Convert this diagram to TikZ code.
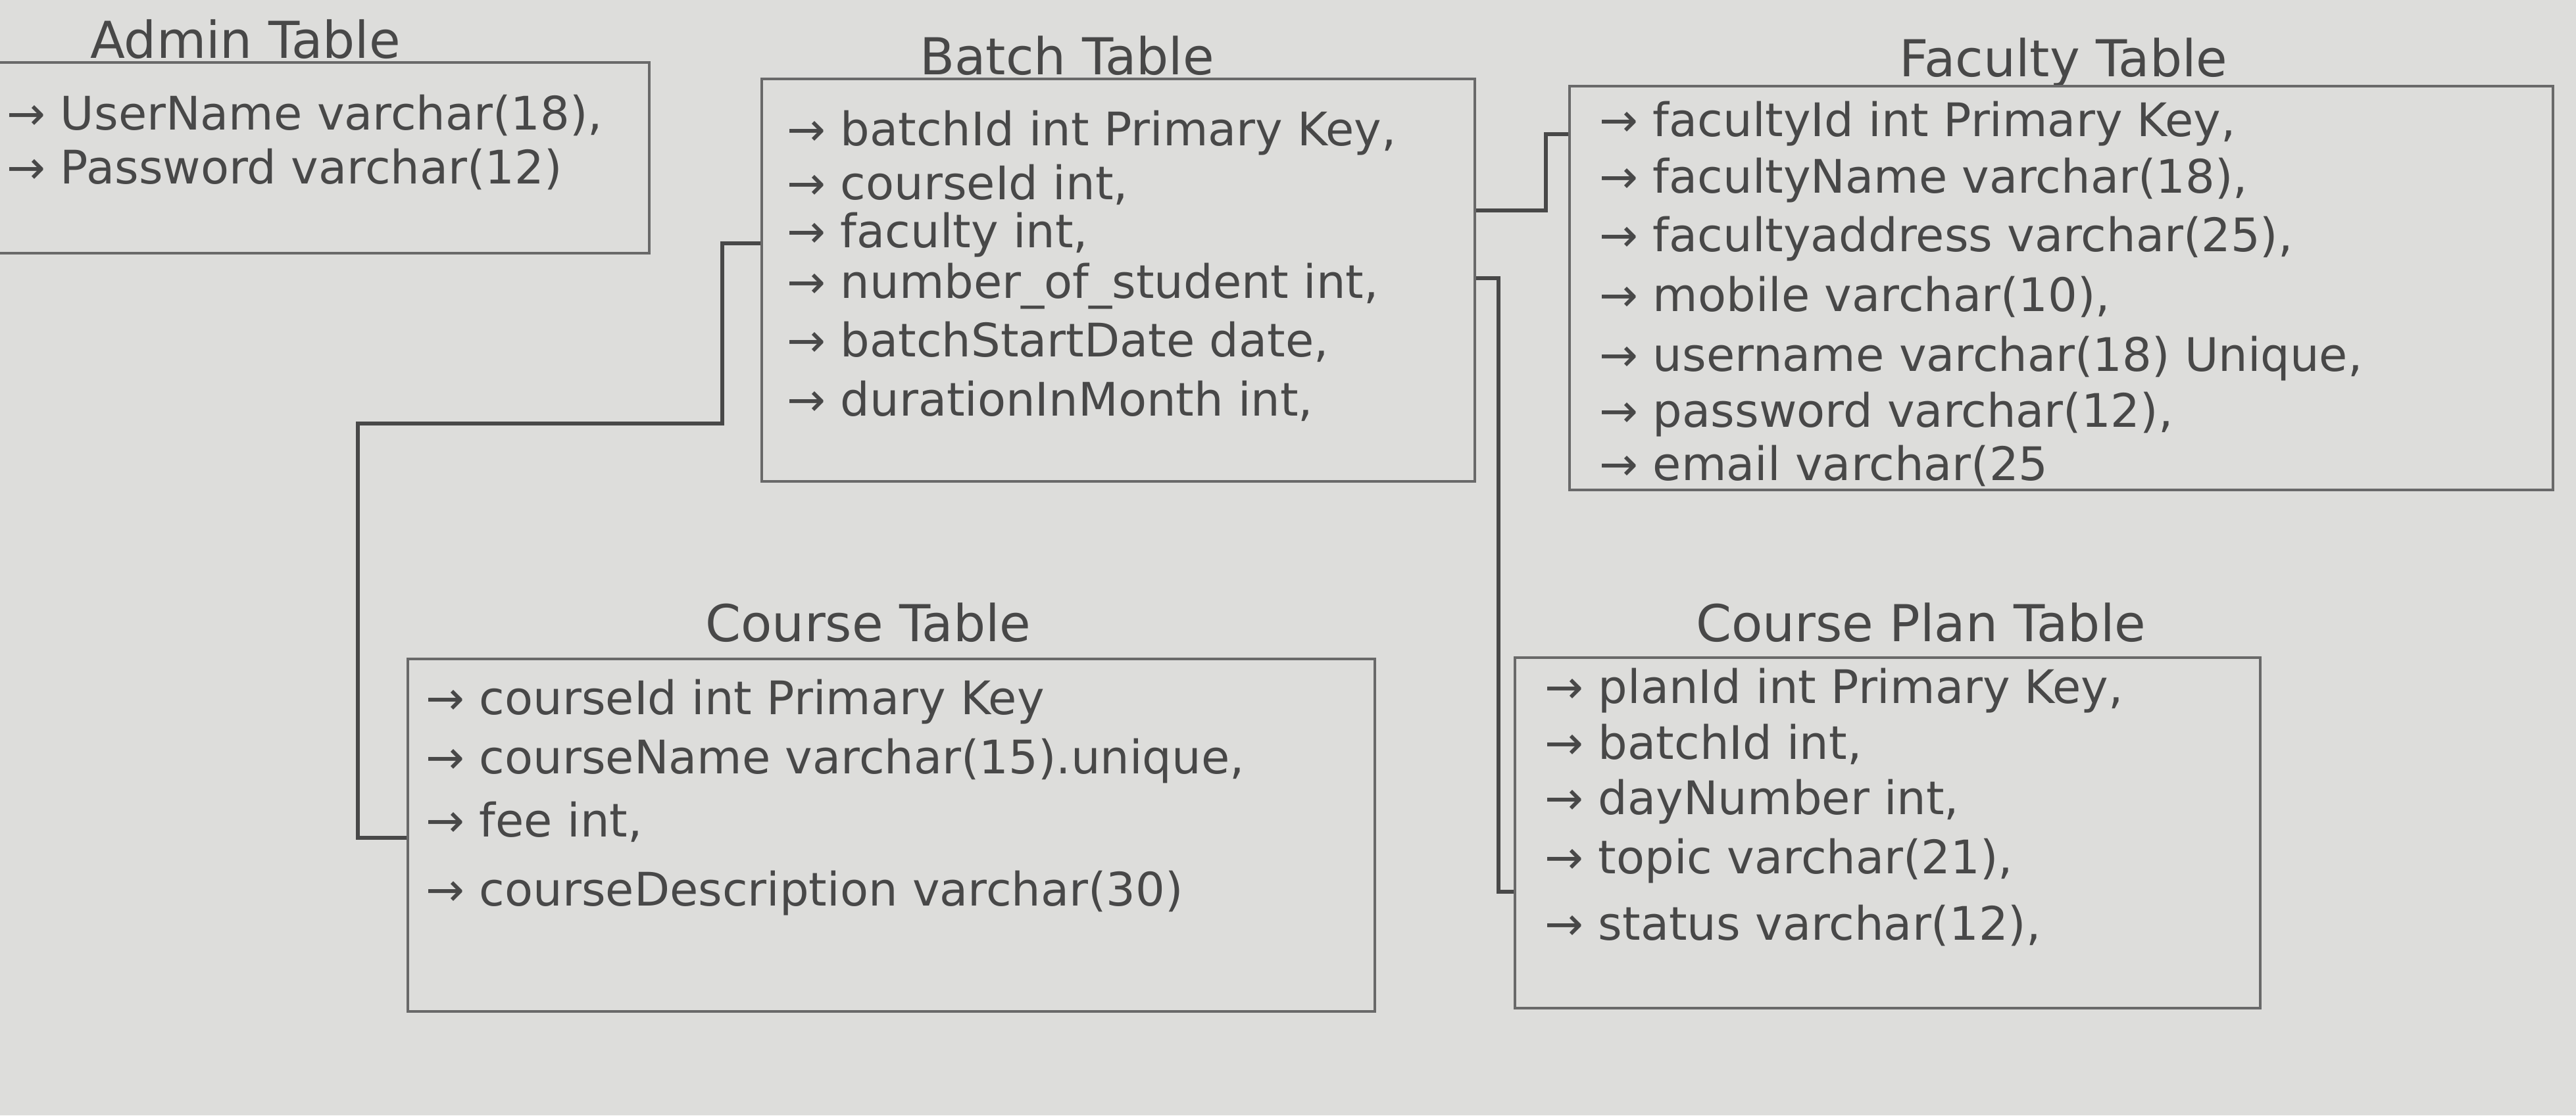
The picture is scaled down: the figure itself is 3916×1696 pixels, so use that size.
\documentclass[tikz,border=0pt]{standalone}
\usepackage{fontspec}
\setmainfont{DejaVu Sans}
\usetikzlibrary{fit}
\definecolor{paper}{RGB}{221,221,219}
\definecolor{pencil}{RGB}{72,72,72}
\definecolor{lead}{RGB}{105,105,105}
\tikzset{
  tablebox/.style={draw=lead, line width=1.3pt, inner sep=0pt},
  tabletitle/.style={font=\fontsize{22}{26}\selectfont, text=pencil},
  row/.style={anchor=west, font=\fontsize{20}{24}\selectfont, text=pencil, inner sep=0pt},
  link/.style={draw=pencil, line width=1.6pt}
}
\begin{document}
\begin{tikzpicture}[x=0.01cm, y=-0.01cm]

        % fondo
        \fill[paper] (0,0) rectangle (3916,1696);
        \useasboundingbox (0,0) rectangle (3916,1696);
        \clip (0,0) rectangle (3916,1696);

        % ==========================================
        % Admin Table
        % ==========================================
        \node[tabletitle] (admintitle) at (373,60) {Admin Table};
        \node[tablebox, fit={(-30,95) (987,385)}] (admin) {};
        \node[row] (admin1) at (10,175) {→ UserName varchar(18),};
        \node[row] (admin2) at (10,257) {→ Password varchar(12)};

        % ==========================================
        % Batch Table
        % ==========================================
        \node[tabletitle] (batchtitle) at (1622,85) {Batch Table};
        \node[tablebox, fit={(1158,120) (2242,732)}] (batch) {};
        \node[row] (batch1) at (1196,202) {→ batchId int Primary Key,};
        \node[row] (batch2) at (1196,281) {→ courseId int,};
        \node[row] (batch3) at (1196,357) {→ faculty int,};
        \node[row] (batch4) at (1196,435) {→ number\_of\_student int,};
        \node[row] (batch5) at (1196,520) {→ batchStartDate date,};
        \node[row] (batch6) at (1196,610) {→ durationInMonth int,};

        % ==========================================
        % Faculty Table
        % ==========================================
        \node[tabletitle] (facultytitle) at (3137,95) {Faculty Table};
        \node[tablebox, fit={(2386,131) (3881,745)}] (faculty) {};
        \node[row] (faculty1) at (2431,188) {→ facultyId int Primary Key,};
        \node[row] (faculty2) at (2431,274) {→ facultyName varchar(18),};
        \node[row] (faculty3) at (2431,363) {→ facultyaddress varchar(25),};
        \node[row] (faculty4) at (2431,451) {→ mobile varchar(10),};
        \node[row] (faculty5) at (2431,545) {→ username varchar(18) Unique,};
        \node[row] (faculty6) at (2431,630) {→ password varchar(12),};
        \node[row] (faculty7) at (2431,708) {→ email varchar(25};

        % ==========================================
        % Course Table
        % ==========================================
        \node[tabletitle] (coursetitle) at (1320,947) {Course Table};
        \node[tablebox, fit={(620,1002) (2090,1538)}] (course) {};
        \node[row] (course1) at (647,1067) {→ courseId int Primary Key};
        \node[row] (course2) at (647,1157) {→ courseName varchar(15).unique,};
        \node[row] (course3) at (647,1250) {→ fee int,};
        \node[row] (course4) at (647,1358) {→ courseDescription varchar(30)};

        % ==========================================
        % Course Plan Table
        % ==========================================
        \node[tabletitle] (plantitle) at (2920,947) {Course Plan Table};
        \node[tablebox, fit={(2303,1000) (3436,1533)}] (plan) {};
        \node[row] (plan1) at (2348,1050) {→ planId int Primary Key,};
        \node[row] (plan2) at (2348,1132) {→ batchId int,};
        \node[row] (plan3) at (2348,1219) {→ dayNumber int,};
        \node[row] (plan4) at (2348,1309) {→ topic varchar(21),};
        \node[row] (plan5) at (2348,1407) {→ status varchar(12),};

        % Relaciones
        \coordinate (bcA) at (1098,644);
        \coordinate (bcB) at (544,1274);
        \draw[link] (batch.west |- 0,370) -| (bcA) -| (bcB) -- (course.west |- bcB);

        \coordinate (bfA) at (2350,204);
        \draw[link] (batch.east |- 0,320) -| (bfA) -- (faculty.west |- bfA);

        \coordinate (bpA) at (2278,1356);
        \draw[link] (batch.east |- 0,423) -| (bpA) -- (plan.west |- bpA);

    \end{tikzpicture}
\end{document}
